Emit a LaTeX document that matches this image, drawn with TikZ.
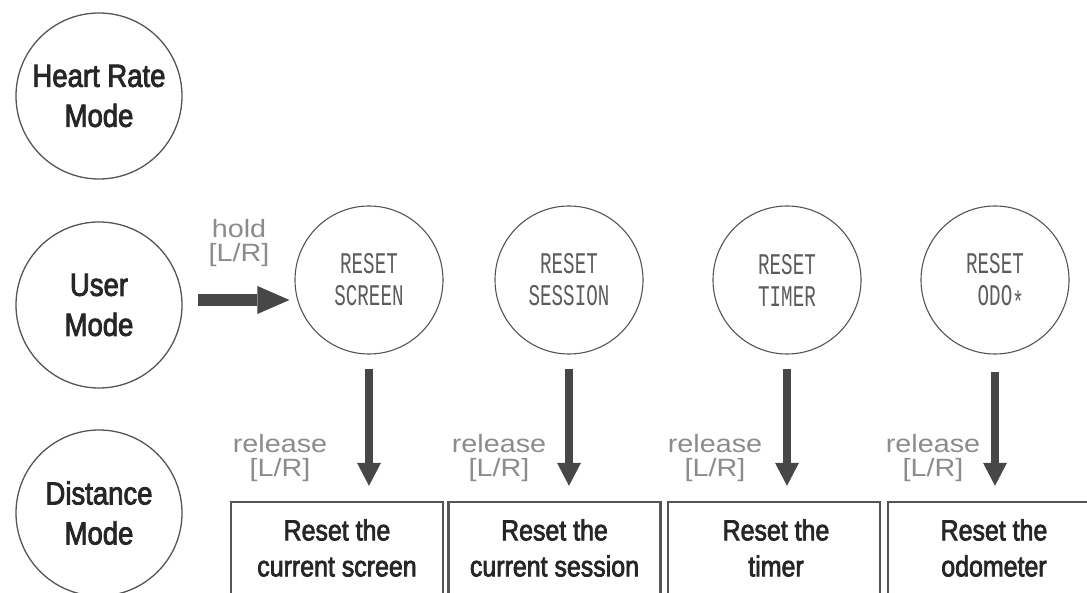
\documentclass[tikz,border=0pt]{standalone}
\usepackage{fontspec}
\setmainfont{Liberation Sans}
\newfontfamily\modefont[FakeStretch=0.86,FakeBold=2.5]{Liberation Sans}
\newfontfamily\keyfont[FakeStretch=1.15]{Liberation Sans}
\newfontfamily\lcdfont[FakeStretch=0.64]{Liberation Mono}
\usetikzlibrary{arrows.meta,calc}
\definecolor{ink}{HTML}{262626}
\definecolor{arrowgray}{HTML}{474747}
\definecolor{keygray}{HTML}{8C8C8C}
\definecolor{lcdgray}{HTML}{5C5C5C}
\definecolor{linegray}{HTML}{555555}
\begin{document}
\begin{tikzpicture}[x=1pt,y=-1pt,
  modecirc/.style={circle, draw=linegray, line width=1.3pt, minimum size=166pt, inner sep=0pt},
  modetext/.style={align=center, font=\modefont\fontsize{32}{40}\selectfont, text=ink, inner sep=0pt},
  resetcirc/.style={circle, draw=linegray, line width=1.1pt, minimum size=148pt, inner sep=0pt},
  lcdtext/.style={align=center, font=\lcdfont\fontsize{30}{32}\selectfont, text=lcdgray, inner sep=0pt},
  keytext/.style={align=center, font=\keyfont\fontsize{25}{24}\selectfont, text=keygray, inner sep=0pt},
  actbox/.style={draw=linegray, line width=2.4pt, minimum width=212pt, minimum height=140pt, inner sep=0pt},
  acttext/.style={align=center, font=\modefont\fontsize{29}{36}\selectfont, text=ink, inner sep=0pt},
  harrow/.style={draw=arrowgray, line width=12pt, -{Triangle[length=32pt,width=28pt,line width=0pt]}, arrowgray},
  varrow/.style={draw=arrowgray, line width=8pt, -{Triangle[length=23pt,width=24pt,line width=0pt]}, arrowgray}
]
\clip (0,0) rectangle (1087,593);
\fill[white] (0,0) rectangle (1087,593);

% mode circles
\node[modecirc] (hr) at (99,96) {};
\node[modecirc] (user) at (99,305) {};
\node[modecirc] (dist) at (99,513) {};
\node[modetext] (hrt) at (hr.center) {Heart Rate\\Mode};
\node[modetext] (usert) at (user.center) {User\\Mode};
\node[modetext] (distt) at (dist.center) {Distance\\Mode};

% reset circles
\node[resetcirc] (r1) at (369,280) {};
\node[resetcirc] (r2) at (569,280) {};
\node[resetcirc] (r3) at (787,280) {};
\node[resetcirc] (r4) at (995,280) {};
\node[lcdtext] (r1t) at (r1.center) {RESET\\SCREEN};
\node[lcdtext] (r2t) at (r2.center) {RESET\\SESSION};
\node[lcdtext] (r3t) at (r3.center) {RESET\\TIMER};
\node[lcdtext] (r4t) at (r4.center) {RESET\\\ ODO\smash{\raisebox{-7pt}{*}}};

% action boxes
\node[actbox] (b1) at (337,572) {};
\node[actbox] (b2) at (554.5,572) {};
\node[actbox] (b3) at (774,572) {};
\node[actbox] (b4) at (994,572) {};
\node[acttext] (b1t) at (337,548) {Reset the\\current screen};
\node[acttext] (b2t) at (554.5,548) {Reset the\\current session};
\node[acttext] (b3t) at (776,548) {Reset the\\timer};
\node[acttext] (b4t) at (994,548) {Reset the\\odometer};

% key labels
\node[keytext] (hold) at (239,243) {hold\\{[}L/R{]}};
\node[keytext] (rel1) at (280,458) {release\\{[}L/R{]}};
\node[keytext] (rel2) at (499,458) {release\\{[}L/R{]}};
\node[keytext] (rel3) at (715,458) {release\\{[}L/R{]}};
\node[keytext] (rel4) at (933,458) {release\\{[}L/R{]}};

% arrows
\draw[harrow] ($(user.east)+(15,-5)$) -- ($(r1.west)+(-5,20)$);
\draw[varrow, shorten <=14pt, shorten >=15pt] (r1.south) -- (r1.south |- b1.north);
\draw[varrow, shorten <=14pt, shorten >=15pt] (r2.south) -- (r2.south |- b2.north);
\draw[varrow, shorten <=14pt, shorten >=15pt] (r3.south) -- (r3.south |- b3.north);
\draw[varrow, shorten <=17pt, shorten >=15pt] (r4.south) -- (r4.south |- b4.north);
\end{tikzpicture}
\end{document}
